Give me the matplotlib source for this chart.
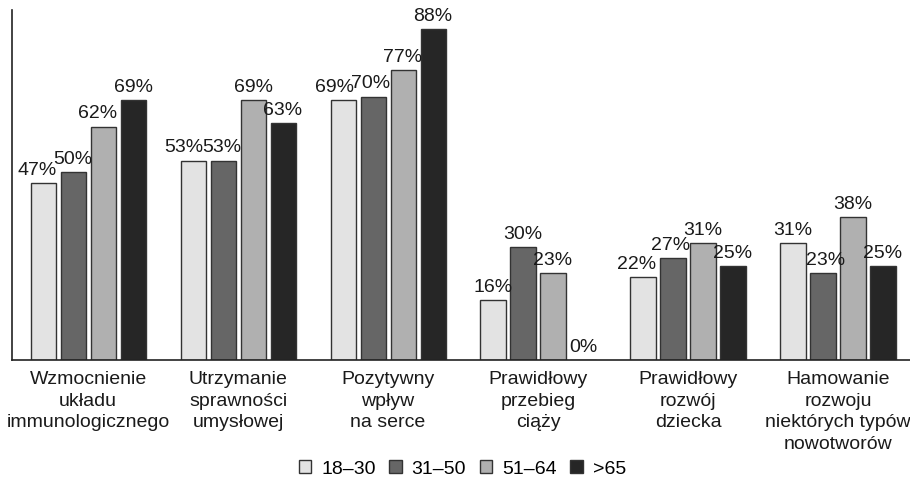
import numpy as np
import matplotlib.pyplot as plt

plt.rcParams['font.family'] = ['Liberation Sans', 'DejaVu Sans']

categories = [
    "Wzmocnienie\nukładu\nimmunologicznego",
    "Utrzymanie\nsprawności\numysłowej",
    "Pozytywny\nwpływ\nna serce",
    "Prawidłowy\nprzebieg\nciąży",
    "Prawidłowy\nrozwój\ndziecka",
    "Hamowanie\nrozwoju\nniektórych typów\nnowotworów",
]
age_groups = ["18–30", "31–50", "51–64", ">65"]
v_18_30 = [47, 53, 69, 16, 22, 31]
v_31_50 = [50, 53, 70, 30, 27, 23]
v_51_64 = [62, 69, 77, 23, 31, 38]
v_65 = [69, 63, 88, 0, 25, 25]
series = [v_18_30, v_31_50, v_51_64, v_65]
colors = ["#e3e3e3", "#666666", "#b0b0b0", "#262626"]

# horizontal nudges (points) for crowded value labels: (group, series) -> dx
nudge = {(0, 0): -4, (0, 2): -4, (1, 0): -7, (1, 1): -1, (2, 0): -6,
         (2, 1): -2, (4, 0): -5, (4, 1): -2, (5, 1): 2}

fig = plt.figure(figsize=(9.10, 4.83), dpi=100)
ax = fig.add_axes([12 / 910, 123 / 483, 1 - 12 / 910, 350 / 483])

x = np.arange(len(categories))
width = 0.167
step = 0.2
for i, (vals, col) in enumerate(zip(series, colors)):
    pos = x + (i - 1.5) * step
    ax.bar(pos, vals, width, color=col, edgecolor="#333333", linewidth=1.0,
           label=age_groups[i])
    for g, (p, v) in enumerate(zip(pos, vals)):
        ax.annotate(f"{v}%", (p, v), xytext=(nudge.get((g, i), 0), 3),
                    textcoords="offset points", ha="center", va="bottom",
                    fontsize=14, color="#1a1a1a")

ax.set_xlim(-0.507, 5.48)
ax.set_ylim(0, 93)
ax.set_xticks(x)
ax.set_xticklabels(categories, fontsize=14, linespacing=1.35, color="#1a1a1a")
ax.tick_params(axis="x", length=0, pad=8)
ax.set_yticks([])
for s in ["top", "right"]:
    ax.spines[s].set_visible(False)
for s in ["left", "bottom"]:
    ax.spines[s].set_color("#222222")
    ax.spines[s].set_linewidth(1.2)

fig.legend(loc="center", bbox_to_anchor=(0.508, 1 - 469 / 483), ncol=4,
           frameon=False, fontsize=14, handlelength=0.65, handleheight=0.65,
           handletextpad=0.5, columnspacing=0.7)

fig.savefig("out.png", dpi=100)
